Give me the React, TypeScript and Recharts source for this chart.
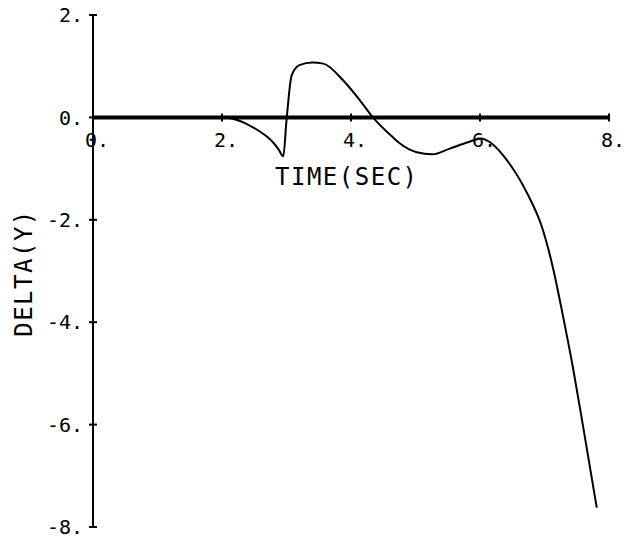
import { LineChart, Line, XAxis, YAxis, ReferenceLine, ReferenceDot } from 'recharts';

const times = [0, 1, 2.0, 2.15, 2.3, 2.43, 2.58, 2.7, 2.8, 2.88, 2.95, 3.0, 3.08, 3.2, 3.4, 3.57, 3.88, 4.14, 4.34, 4.65, 4.76, 5.02, 5.26, 5.53, 5.8, 6.02, 6.16, 6.42, 6.73, 6.96, 7.13, 7.29, 7.44, 7.6, 7.81];
const deltaY = [0, 0, 0, -0.02, -0.08, -0.16, -0.27, -0.38, -0.5, -0.63, -0.76, -0.06, 0.82, 1.02, 1.07, 1.05, 0.72, 0.33, 0, -0.39, -0.51, -0.68, -0.72, -0.61, -0.49, -0.41, -0.49, -0.84, -1.48, -2.14, -2.93, -3.9, -4.88, -6.05, -7.62];
const xTicks = [0, 2, 4, 6, 8];
const yTicks = [2, 0, -2, -4, -6, -8];

const data = times.map((t, i) => ({ t, y: deltaY[i] }));

const FONT = '"DejaVu Sans Mono", monospace';

function YTick(props: any) {
  const { x, y, payload } = props;
  return (
    <g>
      <line x1={x - 4} y1={y} x2={x + 4} y2={y} stroke="#000" strokeWidth={2} />
      <text x={x - 10} y={y} dy="0.36em" textAnchor="end" fontFamily={FONT} fontSize={20} fill="#000">
        {payload.value + '.'}
      </text>
    </g>
  );
}

function XTickShape(props: any) {
  const { cx, cy, label } = props;
  return (
    <g>
      <line x1={cx} y1={cy - 4} x2={cx} y2={cy + 4} stroke="#000" strokeWidth={2} />
      <text x={cx - 8} y={cy + 22} dy="0.36em" textAnchor="start" fontFamily={FONT} fontSize={20} fill="#000">
        {label}
      </text>
    </g>
  );
}

export default function App() {
  return (
    <div style={{ position: 'absolute', left: 0, top: 0, width: 638, height: 541, background: '#fff' }}>
      <LineChart width={638} height={541} data={data} margin={{ top: 15, right: 29, bottom: 14, left: 33 }}>
        <XAxis type="number" dataKey="t" domain={[0, 8]} ticks={xTicks} hide />
        <YAxis
          type="number"
          domain={[-8, 2]}
          ticks={yTicks}
          width={60}
          axisLine={{ stroke: '#000', strokeWidth: 2 }}
          tickLine={false}
          tickSize={0}
          tickMargin={0}
          tick={<YTick />}
          interval={0}
        />
        <ReferenceLine y={0} stroke="#000" strokeWidth={4} />
        {xTicks.map((v) => (
          <ReferenceDot
            key={v}
            x={v}
            y={0}
            r={0}
            shape={(p: any) => <XTickShape {...p} label={v + '.'} />}
          />
        ))}
        <Line
          type="monotone"
          dataKey="y"
          stroke="#000"
          strokeWidth={2}
          dot={false}
          isAnimationActive={false}
        />
      </LineChart>
      <div
        style={{
          position: 'absolute',
          left: 275,
          top: 164,
          fontFamily: FONT,
          fontSize: 24,
          letterSpacing: 1.5,
          lineHeight: '26px',
          color: '#000',
          whiteSpace: 'nowrap',
        }}
      >
        TIME(SEC)
      </div>
      <div
        style={{
          position: 'absolute',
          left: 24,
          top: 273,
          transform: 'translate(-50%, -50%) rotate(-90deg)',
          fontFamily: FONT,
          fontSize: 24,
          letterSpacing: 1.5,
          lineHeight: '26px',
          color: '#000',
          whiteSpace: 'nowrap',
        }}
      >
        DELTA(Y)
      </div>
    </div>
  );
}
